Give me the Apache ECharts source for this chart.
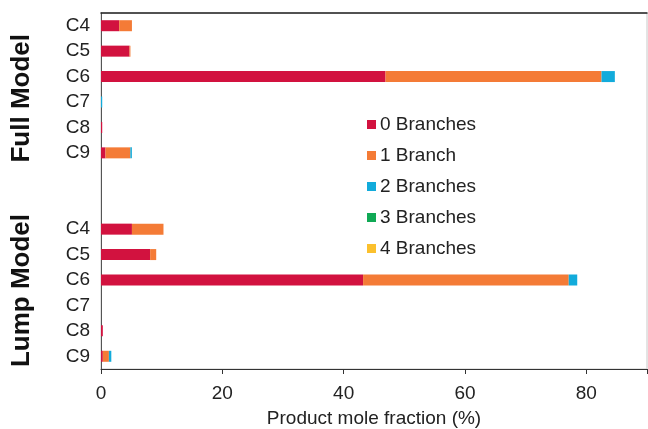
<!DOCTYPE html>
<html>
<head>
<meta charset="utf-8">
<script src="https://cdn.jsdelivr.net/npm/echarts@6/dist/echarts.min.js"></script>
<style>html,body{margin:0;padding:0;background:#fff}#c{width:648px;height:429px}</style>
</head>
<body>
<div id="c"></div>
<script>
const categories = ['F-C4','F-C5','F-C6','F-C7','F-C8','F-C9','gap1','gap2','L-C4','L-C5','L-C6','L-C7','L-C8','L-C9'];
const seriesNames = ['0 Branches','1 Branch','2 Branches','3 Branches','4 Branches'];
const branch0 = [3.0, 4.7, 46.9, 0, 0.2, 0.74, null, null, 5.1, 8.1, 43.2, 0, 0.3, 0.3];
const branch1 = [2.1, 0.15, 35.6, 0, 0, 4.1, null, null, 5.2, 1.0, 33.9, 0, 0, 1.0];
const branch2 = [0, 0, 2.2, 0.2, 0, 0.25, null, null, 0, 0, 1.4, 0, 0, 0.4];
const branch3 = [0, 0, 0, 0, 0, 0, null, null, 0, 0, 0, 0, 0, 0];
const branch4 = [0, 0, 0, 0, 0, 0, null, null, 0, 0, 0, 0, 0, 0];
const xTicks = [0, 20, 40, 60, 80];
const colors = ['#D2123F', '#F47B36', '#12ABDB', '#10A955', '#FBC02D'];

const allData = [branch0, branch1, branch2, branch3, branch4];
const chart = echarts.init(document.getElementById('c'), null, {renderer: 'canvas'});
const font = 'Liberation Sans, Arial, sans-serif';
chart.setOption({
  animation: false,
  color: colors,
  grid: {left: 101, right: 1, top: 13, bottom: 60, show: true, borderColor: '#c8c8c8', borderWidth: 1,
    containLabel: false, outerBoundsMode: 'none'},
  legend: {
    orient: 'vertical', left: 367, top: 115, padding: 0,
    itemWidth: 9, itemHeight: 9, itemGap: 12,
    icon: 'rect',
    textStyle: {fontFamily: font, fontSize: 19, color: '#222', padding: [0, 0, 0, -1]},
    data: seriesNames
  },
  xAxis: [{
    type: 'value', min: 0, max: 90, interval: 20,
    axisLine: {show: true, lineStyle: {color: '#333', width: 1}},
    axisTick: {show: true, length: 5, lineStyle: {color: '#333'}},
    splitLine: {show: false},
    axisLabel: {fontFamily: font, fontSize: 19, color: '#222', margin: 15,
      formatter: v => xTicks.includes(v) ? String(v) : ''},
    name: 'Product mole fraction (%)', nameLocation: 'middle', nameGap: 40,
    nameTextStyle: {fontFamily: font, fontSize: 19, color: '#222'}
  }, {
    type: 'value', min: 0, max: 90, position: 'top',
    axisLine: {show: true, lineStyle: {color: '#222', width: 1.5}},
    axisTick: {show: false}, axisLabel: {show: false}, splitLine: {show: false}
  }],
  yAxis: {
    type: 'category', inverse: true, data: categories,
    axisLine: {show: true, lineStyle: {color: '#555', width: 1}},
    axisTick: {show: false},
    axisLabel: {fontFamily: font, fontSize: 19, color: '#222', margin: 11,
      formatter: v => v.startsWith('gap') ? '' : v.slice(2)}
  },
  series: seriesNames.map((n, i) => ({
    name: n, type: 'bar', stack: 'total', barWidth: 11,
    data: allData[i], itemStyle: {color: colors[i]}
  })),
  graphic: [
    {type: 'text', left: 9, top: 34, rotation: Math.PI / 2,
      style: {text: 'Full Model', font: 'bold 26px ' + font, fill: '#111'}},
    {type: 'text', left: 9, top: 214, rotation: Math.PI / 2,
      style: {text: 'Lump Model', font: 'bold 26px ' + font, fill: '#111'}}
  ]
});
</script>
</body>
</html>
